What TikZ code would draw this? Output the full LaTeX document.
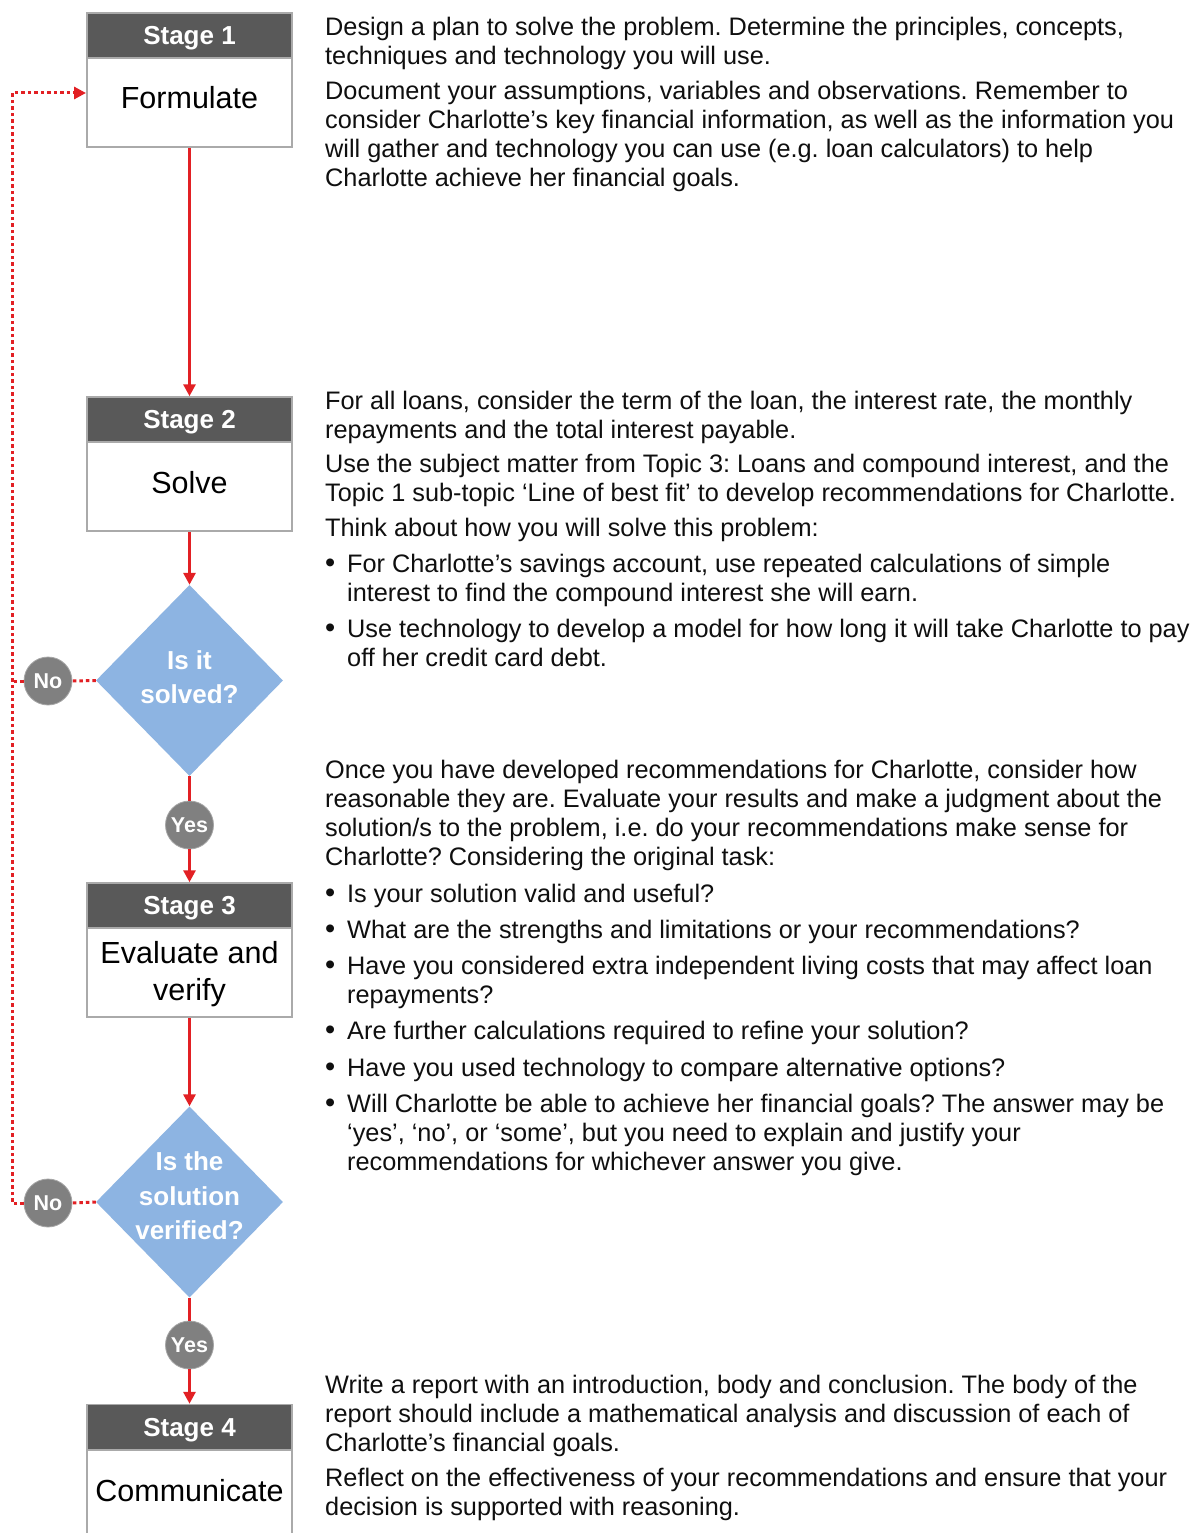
\documentclass[tikz,border=0pt]{standalone}
\usepackage{fontspec}
\setmainfont{Liberation Sans}
\usetikzlibrary{arrows.meta,shapes.geometric,calc}
\frenchspacing
\definecolor{redc}{RGB}{226,32,36}
\definecolor{hdr}{RGB}{89,89,89}
\definecolor{boxgray}{RGB}{170,170,170}
\definecolor{dia}{RGB}{141,180,226}
\definecolor{circ}{RGB}{128,128,128}
\definecolor{txtc}{RGB}{15,15,15}
\tikzset{
 hdrbox/.style={rectangle, draw=boxgray, line width=1.5pt, fill=hdr, minimum width=205pt, minimum height=45pt, inner sep=0pt, text=white, text height=18.6pt, text depth=0pt, font=\fontsize{26}{30}\selectfont\bfseries},
 bodybox/.style={rectangle, draw=boxgray, line width=2pt, fill=white, minimum width=205pt, minimum height=89pt, inner sep=0pt},
 bodytext/.style={anchor=base, inner sep=0pt, text=black, font=\fontsize{30.5}{36}\selectfont},
 decision/.style={diamond, fill=dia, minimum width=187pt, minimum height=191pt, inner sep=0pt, aspect=1},
 dectext/.style={anchor=base, inner sep=0pt, text=white, font=\fontsize{26}{30}\selectfont\bfseries},
 answer/.style={circle, fill=circ, draw=circ!70, line width=0.8pt, minimum size=48pt, inner sep=0pt, text=white, font=\fontsize{21.5}{24}\selectfont\bfseries},
 flow/.style={draw=redc, line width=3pt, -{Triangle[length=12pt,width=12pt]}},
 flowplain/.style={draw=redc, line width=3pt},
 loopline/.style={draw=redc, line width=3pt, dash pattern=on 3.5pt off 3pt},
 txt/.style={anchor=base west, inner sep=0pt, text=txtc, font=\fontsize{25.3}{29}\selectfont},
 bul/.style={anchor=base west, inner sep=0pt, text=txtc, font=\fontsize{29}{29}\selectfont},
}
\newcommand\txtline[4]{\node[txt] (#1) at (#2,#3) {#4};}
\newcommand\bulline[4]{\node[bul] (#1b) at (325,#3) {•};\node[txt] (#1) at (#2,#3) {#4};}
\begin{document}
\begin{tikzpicture}[x=1pt,y=-1pt]
\useasboundingbox (0,0) rectangle (1193,1533);
\fill[white] (0,0) rectangle (1193,1533);
\begin{scope}
\clip (0,0) rectangle (1193,1533);
% Stage boxes
\node[bodybox] (s1) at (189.5,102.5) {};
\node[hdrbox] (s1h) at (189.5,35.5) {Stage 1};
\node[bodytext] (s1t) at (189.5,109) {Formulate};

\node[bodybox] (s2) at (189.5,486.5) {};
\node[hdrbox] (s2h) at (189.5,419.5) {Stage 2};
\node[bodytext] (s2t) at (189.5,493) {Solve};

\node[bodybox] (s3) at (189.5,972.5) {};
\node[hdrbox] (s3h) at (189.5,905.5) {Stage 3};
\node[bodytext] (s3t) at (189.5,963) {Evaluate and};
\node[bodytext] (s3u) at (189.5,1000) {verify};

\node[bodybox, minimum height=100pt] (s4) at (189.5,1500) {};
\node[hdrbox] (s4h) at (189.5,1427) {Stage 4};
\node[bodytext] (s4t) at (189.5,1501) {Communicate};

% Decisions
\node[decision] (d1) at (189.5,680.5) {};
\node[dectext] (d1a) at (189.5,669.5) {Is it};
\node[dectext] (d1b) at (189.5,703.5) {solved?};

\node[decision] (d2) at (189.5,1202) {};
\node[dectext] (d2a) at (189.5,1170.5) {Is the};
\node[dectext] (d2b) at (189.5,1205) {solution};
\node[dectext] (d2c) at (189.5,1239.5) {verified?};

% Answers
\node[answer] (n1) at (48,681) {No};
\node[answer] (y1) at (189.5,825) {Yes};
\node[answer] (n2) at (48,1203) {No};
\node[answer] (y2) at (189.5,1345) {Yes};

\coordinate (fb) at (12,93);

% Connectors
\draw[flow] (s1.south) -- (s2h.north);
\draw[flow] (s2.south) -- (d1.north);
\draw[flowplain] (d1.south) -- (y1.north);
\draw[flow] (y1.south) -- (s3h.north);
\draw[flow] (s3.south) -- (d2.north);
\draw[flowplain] (d2.south) -- (y2.north);
\draw[flow] (y2.south) -- (s4h.north);
\draw[loopline] (d1.west) -- (n1.east);
\draw[loopline] (d2.west) -- (n2.east);
\draw[loopline] (n1.west) -- (n1.west -| fb);
\draw[loopline,-{Triangle[length=12pt,width=12pt]}] (n2.west) -| (fb) -- (fb -| s1.west);

% Text block 1
\txtline{a1}{325}{36}{Design a plan to solve the problem. Determine the principles, concepts,}
\txtline{a2}{325}{65}{techniques and technology you will use.}
\txtline{a3}{325}{100}{Document your assumptions, variables and observations. Remember to}
\txtline{a4}{325}{129}{consider Charlotte’s key financial information, as well as the information you}
\txtline{a5}{325}{158}{will gather and technology you can use (e.g. loan calculators) to help}
\txtline{a6}{325}{187}{Charlotte achieve her financial goals.}

% Text block 2
\txtline{b1}{325}{409}{For all loans, consider the term of the loan, the interest rate, the monthly}
\txtline{b2}{325}{438}{repayments and the total interest payable.}
\txtline{b3}{325}{472}{Use the subject matter from Topic 3: Loans and compound interest, and the}
\txtline{b4}{325}{501}{Topic 1 sub-topic ‘Line of best fit’ to develop recommendations for Charlotte.}
\txtline{b5}{325}{536}{Think about how you will solve this problem:}
\bulline{b6}{347}{572}{For Charlotte’s savings account, use repeated calculations of simple}
\txtline{b7}{347}{601}{interest to find the compound interest she will earn.}
\bulline{b8}{347}{637}{Use technology to develop a model for how long it will take Charlotte to pay}
\txtline{b9}{347}{666}{off her credit card debt.}

% Text block 3
\txtline{c1}{325}{778}{Once you have developed recommendations for Charlotte, consider how}
\txtline{c2}{325}{807}{reasonable they are. Evaluate your results and make a judgment about the}
\txtline{c3}{325}{836}{solution/s to the problem, i.e. do your recommendations make sense for}
\txtline{c4}{325}{865}{Charlotte? Considering the original task:}
\bulline{c5}{347}{902}{Is your solution valid and useful?}
\bulline{c6}{347}{938}{What are the strengths and limitations or your recommendations?}
\bulline{c7}{347}{974}{Have you considered extra independent living costs that may affect loan}
\txtline{c8}{347}{1003}{repayments?}
\bulline{c9}{347}{1039}{Are further calculations required to refine your solution?}
\bulline{c10}{347}{1076}{Have you used technology to compare alternative options?}
\bulline{c11}{347}{1112}{Will Charlotte be able to achieve her financial goals? The answer may be}
\txtline{c12}{347}{1141}{‘yes’, ‘no’, or ‘some’, but you need to explain and justify your}
\txtline{c13}{347}{1170}{recommendations for whichever answer you give.}

% Text block 4
\txtline{e1}{325}{1393}{Write a report with an introduction, body and conclusion. The body of the}
\txtline{e2}{325}{1422}{report should include a mathematical analysis and discussion of each of}
\txtline{e3}{325}{1451}{Charlotte’s financial goals.}
\txtline{e4}{325}{1486}{Reflect on the effectiveness of your recommendations and ensure that your}
\txtline{e5}{325}{1515}{decision is supported with reasoning.}
\end{scope}
\end{tikzpicture}
\end{document}
